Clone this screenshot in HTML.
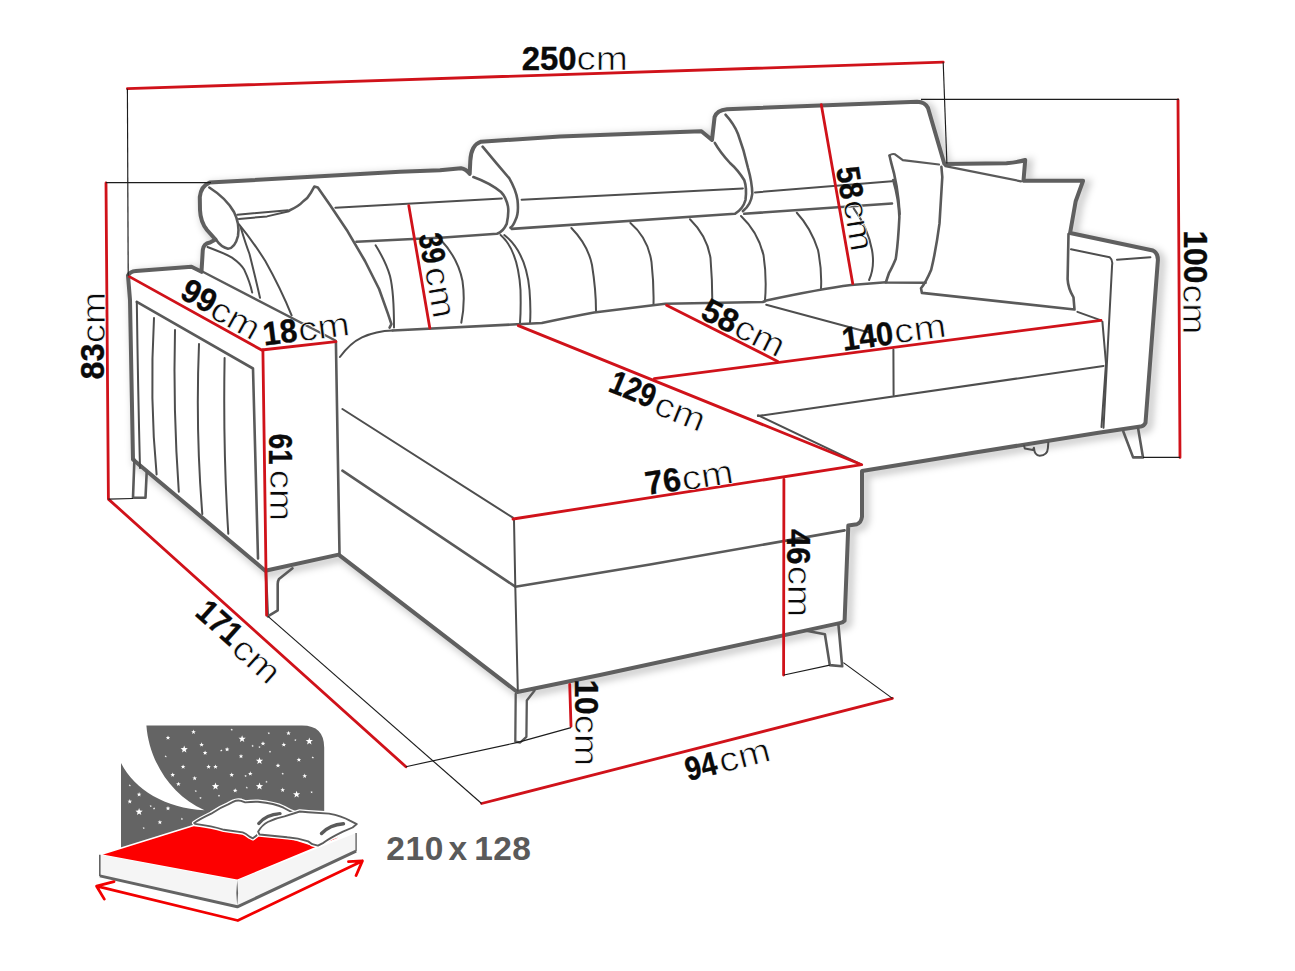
<!DOCTYPE html>
<html><head><meta charset="utf-8"><title>Sofa dimensions</title>
<style>
html,body{margin:0;padding:0;background:#fff;}
body{width:1295px;height:971px;overflow:hidden;position:relative;}
svg{position:absolute;left:0;top:0;}
.o{fill:none;stroke:#5f5f5f;stroke-width:4;stroke-linejoin:round;stroke-linecap:round;}
.m{fill:none;stroke:#5a5a5a;stroke-width:2.6;stroke-linejoin:round;stroke-linecap:round;}
.t{fill:none;stroke:#4e4e4e;stroke-width:2;stroke-linejoin:round;stroke-linecap:round;}
.s{fill:none;stroke:#555;stroke-width:1.3;stroke-linejoin:round;stroke-linecap:round;}
.r{fill:none;stroke:#d0121a;stroke-width:2.8;stroke-linecap:round;stroke-linejoin:round;}
.k{fill:none;stroke:#1c1c1c;stroke-width:1.15;}
text{font-family:"Liberation Sans",sans-serif;fill:#0a0a0a;}
.b{font-weight:bold;stroke:#0a0a0a;stroke-width:0.35px;}
.c{stroke:#fff;stroke-width:0.7px;}
</style></head>
<body>
<svg width="1295" height="971" viewBox="0 0 1295 971">
<defs>
<filter id="sh" x="-5%" y="-5%" width="110%" height="110%"><feGaussianBlur stdDeviation="3.5"/></filter>
</defs>
<!-- SILHOUETTE -->
<g id="sil">
<path d="M128,275.5 Q130,271.5 136,271 L191.5,266.7 L201.5,271.8 L202.8,250 Q203.5,243.5 210,242.5 L215.5,239.5 L207,230 Q200.5,222 200,210 L199.8,197 Q201,186 209.5,182.6 L400,171.8 L440,170.2 L461,168.3 Q466,169 469.7,173.9 L470.3,160.9 Q471,145 481,141.7 L560,136.5 L600,134.9 L680,132.1 L701.4,131.2 L712,140 L714.6,117 Q717,110 727,109.2 L917.2,101.8 Q925,102 928,108 L944.4,164 L1006.5,163.3 Q1018,162.2 1025.2,160 L1023.5,180.7 L1083.1,180.8 L1075.7,201.2 L1070.1,233 L1152.9,250.5 Q1158,253 1157.9,260 L1145.5,422.9 Q1144,426 1140.6,426.6 L1098.5,432.7 L975,452.5 L862,471 L862,516.8 Q861,523 857,524.2 L848.3,525.5 L844.6,620.6 Q843,622.5 839.7,623.1 L600,675 L517.3,692 L338.6,554.6 L265.3,570.7 L133,459.5 L130,300 Z" fill="none" stroke="#000" stroke-opacity="0.2" stroke-width="8" transform="translate(3.5,3)" filter="url(#sh)"/>
<path d="M128,275.5 Q130,271.5 136,271 L191.5,266.7 L201.5,271.8 L202.8,250 Q203.5,243.5 210,242.5 L215.5,239.5 L207,230 Q200.5,222 200,210 L199.8,197 Q201,186 209.5,182.6 L400,171.8 L440,170.2 L461,168.3 Q466,169 469.7,173.9 L470.3,160.9 Q471,145 481,141.7 L560,136.5 L600,134.9 L680,132.1 L701.4,131.2 L712,140 L714.6,117 Q717,110 727,109.2 L917.2,101.8 Q925,102 928,108 L944.4,164 L1006.5,163.3 Q1018,162.2 1025.2,160 L1023.5,180.7 L1083.1,180.8 L1075.7,201.2 L1070.1,233 L1152.9,250.5 Q1158,253 1157.9,260 L1145.5,422.9 Q1144,426 1140.6,426.6 L1098.5,432.7 L975,452.5 L862,471 L862,516.8 Q861,523 857,524.2 L848.3,525.5 L844.6,620.6 Q843,622.5 839.7,623.1 L600,675 L517.3,692 L338.6,554.6 L265.3,570.7 L133,459.5 L130,300 Z" fill="#fff" stroke="none"/>
<path class="o" d="M128,275.5 Q130,271.5 136,271 L191.5,266.7 L201.5,271.8 L202.8,250 Q203.5,243.5 210,242.5 L215.5,239.5 L207,230 Q200.5,222 200,210 L199.8,197 Q201,186 209.5,182.6 L400,171.8 L440,170.2 L461,168.3 Q466,169 469.7,173.9 L470.3,160.9 Q471,145 481,141.7 L560,136.5 L600,134.9 L680,132.1 L701.4,131.2 L712,140 L714.6,117 Q717,110 727,109.2 L917.2,101.8 Q925,102 928,108 L944.4,164 L1006.5,163.3 Q1018,162.2 1025.2,160 L1023.5,180.7 L1083.1,180.8 L1075.7,201.2 L1070.1,233 L1152.9,250.5 Q1158,253 1157.9,260 L1145.5,422.9 Q1144,426 1140.6,426.6 L1098.5,432.7 L975,452.5 L862,471 L862,516.8 Q861,523 857,524.2 L848.3,525.5 L844.6,620.6 Q843,622.5 839.7,623.1 L600,675 L517.3,692 L338.6,554.6 L265.3,570.7 L133,459.5 L130,300 Z"/>
</g>

<!-- LEFT ARM -->
<g id="leftarm">
<path class="m" style="stroke-width:2.3" d="M202.3,271.6 L335.4,340.5"/>
<path class="m" d="M335.9,341.6 Q338,450 339.5,553.4"/>
<path class="m" d="M136.8,301.8 L253,368.5 Q255,450 258,558.4"/>
<path class="t" d="M136.8,301.8 Q138,390 140,468"/>
<path class="t" d="M154,318 Q149.5,400 156.6,474.4"/>
<path class="t" d="M175,330 Q173,410 178.8,491.7"/>
<path class="t" d="M199,344 Q195.5,430 202.3,513.9"/>
<path class="t" d="M224.6,358 Q223,450 228.3,533.7"/>
<path class="m" d="M134.4,459.5 L133,497.8 L145.5,497.8 L146.7,472"/>
<path class="m" d="M292.5,568.3 L279,579 Q277.7,581 277.7,584 L277.7,610.3 L267.8,616.4 L265.8,571"/>
</g>
<!-- LEFT HEADREST / PILLOW -->
<g id="lefthead">
<path class="m" d="M209.3,187.5 Q226,198 234,212 Q240,224 238,236 Q235,248 228,248.8 Q221,247 216.3,240"/>
<path class="t" d="M237.3,214.7 L288,210.3"/>
<path class="t" d="M238.9,219 L267,216.4 L289,211.2"/>
<path class="m" d="M289.8,210.3 Q299,206 303,201.5 Q308,198 310.8,192.8 L314.3,186.6 L317.8,187.5 L330,205 L347.6,231.3 L365,261 L379.1,289 L387.9,313.6 L391.4,324.1 L389.6,327.6"/>
<path class="t" d="M239,224.3 Q252,240 265.3,261 Q281,289 291.6,315.4"/>
<path class="t" d="M240.8,227.8 Q246,245 249.5,254 Q256,280 260,297.8"/>
<path class="t" d="M207.5,247 Q226,254 232,257.6 Q241,264 244.3,269.8 Q250,282 252.2,292.6"/>
<path class="t" d="M335.4,207.7 L501.8,198.6"/>
<path class="m" d="M356.4,241.8 L443.7,237.5 L496.9,233.8 Q503,232 506.7,223.9 Q509,213 508,206.6 Q506,197 501,192 Q490,183 473.4,177"/>
<path class="t" d="M375.6,245.3 Q386,262 390,276 Q394,292 394,327.6"/>
<path class="t" d="M440.5,239.5 Q458,258 462.5,281 Q465.5,302 461.3,322.7"/>
<path class="t" d="M339.9,357 Q350,343 362,337.3 Q376,331 392.7,330.5"/>
</g>
<!-- CENTER HEADREST / BACK -->
<g id="center">
<path class="m" d="M482.6,146.7 Q496,163 509.2,178.2 Q516,190 517.5,200 Q519,214 515.4,220.2 Q513,226 510.5,227.7"/>
<path class="t" d="M521.6,199.8 L742.9,188.4"/>
<path class="m" d="M511.7,228.9 L734.9,213.8 Q743,209 745.5,200 Q747,188 744.3,180.3 Q738,170 730,163 Q720,152 714.8,142.8"/>
<path class="m" d="M725.5,114.7 Q734,124 738,134 Q744,150 748,168 Q752,182 752.3,193.7 Q751,205 742.9,211.1"/>
<path class="t" d="M755,192.4 L892,181.2"/>
<path class="m" d="M744.3,213.8 L892,203.5"/>
<path class="t" d="M500.6,235 Q518,250 520.5,290 Q521,310 520,323"/>
<path class="t" d="M504.3,235 Q526,252 529.5,290 Q531,310 530,323"/>
<path class="t" d="M571.4,228 Q588,245 592,265 Q596,290 596,310.7"/>
<path class="t" d="M630.4,223 Q648,238 651.5,262 Q654,285 653.5,304.4"/>
<path class="t" d="M690,219.3 Q707,236 710.5,258 Q712.3,280 712.3,300.8"/>
<path class="t" d="M741,216 Q758,232 763.5,255 Q767,278 764.9,301.4"/>
<path class="t" d="M796.8,212.7 Q811,228 818,250 Q822,270 821,288.7"/>
<path class="t" d="M853.7,208.4 Q868,228 872,250 Q875,267 869.1,280"/>
<path class="m" d="M392.7,330.5 L517,324.3 L541.8,323 Q570,317 594,312.5 L665.3,303.8 L762.8,302 L766.2,300.5 Q820,289 851.2,285 L886,282.3"/>
</g>
<!-- RIGHT PILLOWS -->
<g id="pillows">
<path class="m" d="M893.2,180 Q899,200 899.4,217 Q898,245 895.7,259.1 Q892,268 889,273 L885.8,282.5 L925.6,282.7"/>
<path class="m" d="M889.5,155.5 L891,162 Q898,185 899.6,214.1"/>
<path class="m" style="stroke-width:2.2" d="M889.5,155.5 Q892,153.3 895,154.3 L902.8,160.2 L939,164.5"/>
<path class="m" d="M941.4,166.9 L942.3,177 Q941,200 939.5,223.4 Q936,250 931.2,269.7 Q926,282 921,288.3 L921.9,292.9 L1074.5,309.5 L1073.5,297.4 Q1068,288 1067.6,279.1 L1068.5,234"/>
<path class="m" style="stroke-width:2.2" d="M945.3,166.2 L1021,181.3"/>
</g>
<!-- RIGHT ARM & SEAT -->
<g id="rightside">
<path class="t" d="M1071,249.3 L1109.7,257.3 Q1113,260 1112.1,265 L1103.5,427.8"/>
<path class="t" d="M1117,259.8 L1150.4,257.3"/>
<path class="t" d="M1077.4,311.9 L1101.1,320.4 M1102.4,321.7 L1106,363.5 L1101.5,427"/>
<path class="t" d="M766.2,304.7 L869.3,332.5"/>
<path class="t" d="M893.4,349.5 L893.6,395.1"/>
<path class="t" d="M758,416 L1103.5,366"/>
<path class="m" d="M1123.3,431.5 L1133.1,457.4 L1143,457.4 L1138,427.8"/>
<path class="t" style="stroke-width:2" d="M1024,445.5 L1024.8,448.5 L1033.1,449.9 L1033.9,447.8 M1034,448 Q1034.5,455.5 1039.7,455.7 Q1047.5,455.5 1047.9,448 L1048.3,442.7"/>
</g>
<!-- CHAISE -->
<g id="chaise">
<path class="t" d="M342.4,409 L512.9,517.7"/>
<path class="m" d="M342.4,470.7 L515.3,586.7 L650,564.5 L844.6,530.4"/>
<path class="t" d="M514,520 L515.3,586.7 L517.8,690.5"/>
<path class="t" d="M861.7,464.7 L757.9,415.2"/>
<path class="m" style="stroke-width:2.3" d="M515.7,694 L515.3,741.7 L520.2,742.5 L526.4,736.8 L526.8,700.5 L534.6,690.5"/>
<path class="m" d="M805,630.5 L824.9,634.2 L829.8,665.1 L842.2,666.3 L838.4,624.3"/>
</g>
<!-- DIMENSION LINES -->
<g id="dims">
<path class="r" d="M127.4,88.7 L943.2,62.2"/>
<path class="r" d="M106,183 L108.4,499.1 L405.9,766.7"/>
<path class="r" d="M129.4,276.6 L261.6,350 L335.9,341.6"/>
<path class="r" d="M262.9,350 L266.6,615.2"/>
<path class="r" d="M408.8,205.7 L429.8,328"/>
<path class="r" d="M821.3,104.7 L852.7,283.5"/>
<path class="r" d="M1178,100 L1180,457.4"/>
<path class="r" d="M518.3,325.6 L861.7,464.7 L513,519"/>
<path class="r" d="M666.6,305.3 L777.8,361.4"/>
<path class="r" d="M654.2,378.7 L1101,320.3"/>
<path class="r" d="M783.9,479.5 L783.6,675"/>
<path class="r" d="M569.7,684.3 L571,726.3"/>
<path class="r" d="M481.6,803.5 L892.4,698.4"/>
</g>
<g id="ext">
<path class="k" d="M127.4,88.7 L128.2,275.8"/>
<path class="k" d="M943.2,62.2 L946.9,163.5"/>
<path class="k" d="M106,182.6 L211,182.6"/>
<path class="k" d="M108.4,499.1 L133,498.5"/>
<path class="k" d="M921,99.3 L1178.9,99.3"/>
<path class="k" d="M1143,457.4 L1180,457.4"/>
<path class="k" d="M268,616.4 L481.6,803.5"/>
<path class="k" d="M571,727.6 L517.8,742.4 L405.9,766.7"/>
<path class="k" d="M784,675 L829.8,665.1"/>
<path class="k" d="M843.4,662.6 L892.4,698.4"/>
</g>

<g id="bed">
<path fill="#646464" d="M146.4,725.4 L302,725.4 Q324.2,725.4 324.2,747.6 L324.2,830 L121,850 L121,763 C135,790 165,808 204.6,810.3 C170,795 149,760 146.4,725.4 Z"/>
<path fill="#fff" d="M168.0,735.4 L168.6,737.0 L170.3,737.1 L169.0,738.1 L169.4,739.7 L168.0,738.8 L166.6,739.7 L167.0,738.1 L165.7,737.1 L167.4,737.0Z M193.5,729.6 L194.1,731.2 L195.8,731.3 L194.5,732.3 L194.9,733.9 L193.5,733.0 L192.1,733.9 L192.5,732.3 L191.2,731.3 L192.9,731.2Z M242.1,735.2 L243.0,737.7 L245.7,737.8 L243.6,739.5 L244.3,742.1 L242.1,740.6 L239.9,742.1 L240.6,739.5 L238.5,737.8 L241.2,737.7Z M309.3,737.5 L310.2,740.0 L312.9,740.1 L310.8,741.8 L311.5,744.4 L309.3,742.9 L307.1,744.4 L307.8,741.8 L305.7,740.1 L308.4,740.0Z M288.5,730.8 L289.1,732.4 L290.8,732.5 L289.5,733.5 L289.9,735.1 L288.5,734.2 L287.1,735.1 L287.5,733.5 L286.2,732.5 L287.9,732.4Z M268.8,731.9 L269.1,732.8 L270.0,732.8 L269.3,733.4 L269.6,734.3 L268.8,733.7 L268.0,734.3 L268.3,733.4 L267.6,732.8 L268.5,732.8Z M295.4,738.8 L295.7,739.7 L296.6,739.7 L295.9,740.3 L296.2,741.2 L295.4,740.6 L294.6,741.2 L294.9,740.3 L294.2,739.7 L295.1,739.7Z M231.7,728.4 L232.0,729.3 L232.9,729.3 L232.2,729.9 L232.5,730.8 L231.7,730.2 L230.9,730.8 L231.2,729.9 L230.5,729.3 L231.4,729.3Z M184.2,745.6 L185.1,748.1 L187.8,748.2 L185.7,749.9 L186.4,752.5 L184.2,751.0 L182.0,752.5 L182.7,749.9 L180.6,748.2 L183.3,748.1Z M201.6,742.3 L202.2,743.9 L203.9,744.0 L202.6,745.0 L203.0,746.6 L201.6,745.7 L200.2,746.6 L200.6,745.0 L199.3,744.0 L201.0,743.9Z M227.1,747.0 L227.7,748.6 L229.4,748.7 L228.1,749.7 L228.5,751.3 L227.1,750.4 L225.7,751.3 L226.1,749.7 L224.8,748.7 L226.5,748.6Z M221.3,749.2 L221.6,750.1 L222.5,750.1 L221.8,750.7 L222.1,751.6 L221.3,751.0 L220.5,751.6 L220.8,750.7 L220.1,750.1 L221.0,750.1Z M205.1,750.5 L205.7,752.1 L207.4,752.2 L206.1,753.2 L206.5,754.8 L205.1,753.9 L203.7,754.8 L204.1,753.2 L202.8,752.2 L204.5,752.1Z M252.6,744.6 L252.9,745.5 L253.8,745.5 L253.1,746.1 L253.4,747.0 L252.6,746.4 L251.8,747.0 L252.1,746.1 L251.4,745.5 L252.3,745.5Z M263.0,741.2 L263.6,742.8 L265.3,742.9 L264.0,743.9 L264.4,745.5 L263.0,744.6 L261.6,745.5 L262.0,743.9 L260.7,742.9 L262.4,742.8Z M283.8,742.3 L284.4,743.9 L286.1,744.0 L284.8,745.0 L285.2,746.6 L283.8,745.7 L282.4,746.6 L282.8,745.0 L281.5,744.0 L283.2,743.9Z M259.5,745.8 L259.8,746.7 L260.7,746.7 L260.0,747.3 L260.3,748.2 L259.5,747.6 L258.7,748.2 L259.0,747.3 L258.3,746.7 L259.2,746.7Z M270.0,750.4 L270.3,751.3 L271.2,751.3 L270.5,751.9 L270.8,752.8 L270.0,752.2 L269.2,752.8 L269.5,751.9 L268.8,751.3 L269.7,751.3Z M241.0,753.9 L241.6,755.5 L243.3,755.6 L242.0,756.6 L242.4,758.2 L241.0,757.3 L239.6,758.2 L240.0,756.6 L238.7,755.6 L240.4,755.5Z M259.5,757.2 L260.4,759.7 L263.1,759.8 L261.0,761.5 L261.7,764.1 L259.5,762.6 L257.3,764.1 L258.0,761.5 L255.9,759.8 L258.6,759.7Z M298.9,757.4 L299.5,759.0 L301.2,759.1 L299.9,760.1 L300.3,761.7 L298.9,760.8 L297.5,761.7 L297.9,760.1 L296.6,759.1 L298.3,759.0Z M312.8,756.2 L313.1,757.1 L314.0,757.1 L313.3,757.7 L313.6,758.6 L312.8,758.0 L312.0,758.6 L312.3,757.7 L311.6,757.1 L312.5,757.1Z M165.7,755.0 L166.0,755.9 L166.9,755.9 L166.2,756.5 L166.5,757.4 L165.7,756.8 L164.9,757.4 L165.2,756.5 L164.5,755.9 L165.4,755.9Z M183.1,764.4 L183.7,766.0 L185.4,766.1 L184.1,767.1 L184.5,768.7 L183.1,767.8 L181.7,768.7 L182.1,767.1 L180.8,766.1 L182.5,766.0Z M208.6,764.4 L209.2,766.0 L210.9,766.1 L209.6,767.1 L210.0,768.7 L208.6,767.8 L207.2,768.7 L207.6,767.1 L206.3,766.1 L208.0,766.0Z M215.5,764.4 L216.1,766.0 L217.8,766.1 L216.5,767.1 L216.9,768.7 L215.5,767.8 L214.1,768.7 L214.5,767.1 L213.2,766.1 L214.9,766.0Z M278.0,763.2 L278.6,764.8 L280.3,764.9 L279.0,765.9 L279.4,767.5 L278.0,766.6 L276.6,767.5 L277.0,765.9 L275.7,764.9 L277.4,764.8Z M172.7,772.5 L173.3,774.1 L175.0,774.2 L173.7,775.2 L174.1,776.8 L172.7,775.9 L171.3,776.8 L171.7,775.2 L170.4,774.2 L172.1,774.1Z M194.7,775.9 L195.3,777.5 L197.0,777.6 L195.7,778.6 L196.1,780.2 L194.7,779.3 L193.3,780.2 L193.7,778.6 L192.4,777.6 L194.1,777.5Z M231.7,772.5 L232.3,774.1 L234.0,774.2 L232.7,775.2 L233.1,776.8 L231.7,775.9 L230.3,776.8 L230.7,775.2 L229.4,774.2 L231.1,774.1Z M250.3,771.3 L250.9,772.9 L252.6,773.0 L251.3,774.0 L251.7,775.6 L250.3,774.7 L248.9,775.6 L249.3,774.0 L248.0,773.0 L249.7,772.9Z M245.6,774.7 L245.9,775.6 L246.8,775.6 L246.1,776.2 L246.4,777.1 L245.6,776.5 L244.8,777.1 L245.1,776.2 L244.4,775.6 L245.3,775.6Z M282.7,772.4 L283.0,773.3 L283.9,773.3 L283.2,773.9 L283.5,774.8 L282.7,774.2 L281.9,774.8 L282.2,773.9 L281.5,773.3 L282.4,773.3Z M304.7,773.6 L305.3,775.2 L307.0,775.3 L305.7,776.3 L306.1,777.9 L304.7,777.0 L303.3,777.9 L303.7,776.3 L302.4,775.3 L304.1,775.2Z M178.4,781.7 L179.0,783.3 L180.7,783.4 L179.4,784.4 L179.8,786.0 L178.4,785.1 L177.0,786.0 L177.4,784.4 L176.1,783.4 L177.8,783.3Z M215.5,782.6 L216.4,785.1 L219.1,785.2 L217.0,786.9 L217.7,789.5 L215.5,788.0 L213.3,789.5 L214.0,786.9 L211.9,785.2 L214.6,785.1Z M259.5,782.6 L260.4,785.1 L263.1,785.2 L261.0,786.9 L261.7,789.5 L259.5,788.0 L257.3,789.5 L258.0,786.9 L255.9,785.2 L258.6,785.1Z M266.5,780.5 L266.8,781.4 L267.7,781.4 L267.0,782.0 L267.3,782.9 L266.5,782.3 L265.7,782.9 L266.0,782.0 L265.3,781.4 L266.2,781.4Z M246.8,786.3 L247.1,787.2 L248.0,787.2 L247.3,787.8 L247.6,788.7 L246.8,788.1 L246.0,788.7 L246.3,787.8 L245.6,787.2 L246.5,787.2Z M235.2,788.2 L235.8,789.8 L237.5,789.9 L236.2,790.9 L236.6,792.5 L235.2,791.6 L233.8,792.5 L234.2,790.9 L232.9,789.9 L234.6,789.8Z M195.8,789.8 L196.1,790.7 L197.0,790.7 L196.3,791.3 L196.6,792.2 L195.8,791.6 L195.0,792.2 L195.3,791.3 L194.6,790.7 L195.5,790.7Z M219.0,794.4 L219.3,795.3 L220.2,795.3 L219.5,795.9 L219.8,796.8 L219.0,796.2 L218.2,796.8 L218.5,795.9 L217.8,795.3 L218.7,795.3Z M200.5,796.7 L200.8,797.6 L201.7,797.6 L201.0,798.2 L201.3,799.1 L200.5,798.5 L199.7,799.1 L200.0,798.2 L199.3,797.6 L200.2,797.6Z M282.7,787.6 L283.3,789.2 L285.0,789.3 L283.7,790.3 L284.1,791.9 L282.7,791.0 L281.3,791.9 L281.7,790.3 L280.4,789.3 L282.1,789.2Z M296.6,790.7 L297.5,793.2 L300.2,793.3 L298.1,795.0 L298.8,797.6 L296.6,796.1 L294.4,797.6 L295.1,795.0 L293.0,793.3 L295.7,793.2Z M311.6,790.9 L311.9,791.8 L312.8,791.8 L312.1,792.4 L312.4,793.3 L311.6,792.7 L310.8,793.3 L311.1,792.4 L310.4,791.8 L311.3,791.8Z M129.8,784.0 L130.1,784.9 L131.0,784.9 L130.3,785.5 L130.6,786.4 L129.8,785.8 L129.0,786.4 L129.3,785.5 L128.6,784.9 L129.5,784.9Z M139.1,792.1 L139.7,793.7 L141.4,793.8 L140.1,794.8 L140.5,796.4 L139.1,795.5 L137.7,796.4 L138.1,794.8 L136.8,793.8 L138.5,793.7Z M129.8,799.1 L130.4,800.7 L132.1,800.8 L130.8,801.8 L131.2,803.4 L129.8,802.5 L128.4,803.4 L128.8,801.8 L127.5,800.8 L129.2,800.7Z M139.1,808.1 L140.0,810.6 L142.7,810.7 L140.6,812.4 L141.3,815.0 L139.1,813.5 L136.9,815.0 L137.6,812.4 L135.5,810.7 L138.2,810.6Z M168.0,806.0 L168.6,807.6 L170.3,807.7 L169.0,808.7 L169.4,810.3 L168.0,809.4 L166.6,810.3 L167.0,808.7 L165.7,807.7 L167.4,807.6Z M154.1,807.1 L154.4,808.0 L155.3,808.0 L154.6,808.6 L154.9,809.5 L154.1,808.9 L153.3,809.5 L153.6,808.6 L152.9,808.0 L153.8,808.0Z M150.7,804.8 L151.0,805.7 L151.9,805.7 L151.2,806.3 L151.5,807.2 L150.7,806.6 L149.9,807.2 L150.2,806.3 L149.5,805.7 L150.4,805.7Z M159.9,819.9 L160.5,821.5 L162.2,821.6 L160.9,822.6 L161.3,824.2 L159.9,823.3 L158.5,824.2 L158.9,822.6 L157.6,821.6 L159.3,821.5Z M181.9,817.6 L182.2,818.5 L183.1,818.5 L182.4,819.1 L182.7,820.0 L181.9,819.4 L181.1,820.0 L181.4,819.1 L180.7,818.5 L181.6,818.5Z M143.7,826.8 L144.0,827.7 L144.9,827.7 L144.2,828.3 L144.5,829.2 L143.7,828.6 L142.9,829.2 L143.2,828.3 L142.5,827.7 L143.4,827.7Z"/>
<path fill="#fd0000" stroke="#fff" stroke-width="1.6" stroke-linejoin="round" d="M99.8,854.7 L194.4,825.2 L215,827 L245,832 L258,835 L290,838 L312,845 L356.1,831 L237,880.4 Z"/>
<path fill="#f5f5f5" d="M99.8,854.7 L237,880.4 L356.1,833.1 L356.1,851.2 L237.3,906.8 L99.8,875.9 Z"/>
<path fill="none" stroke="#646464" stroke-width="1.6" stroke-linejoin="round" d="M99.8,854.7 L99.8,875.9"/>
<path fill="none" stroke="#646464" stroke-width="1.4" d="M356.1,833.1 L356.1,851.2"/>
<path fill="none" stroke="#646464" stroke-width="3" stroke-linejoin="round" d="M99.8,875.9 L237.3,906.8 L356.1,851.2"/>
<path fill="#646464" d="M237.2,880 Q235.4,893 237.2,906 Q239,893 237.2,880 Z"/>
<path fill="#fff" stroke="#fff" stroke-width="4.5" stroke-linejoin="round" d="M194.2,823 Q200,819 211.2,813.7 Q220,807.5 228.2,804.3 L233,801.8 Q237,799.8 241,800.8 L245.2,802.4 Q252,801.6 258,801.8 Q275,803.5 283.5,807.7 Q289,811 295.4,813.3 L287.7,815.4 L283.5,816.2 L271.6,827.3 L258.8,832.4 L257.1,835 L252.9,838.3 L249.5,836.6 Q246,833.5 242.7,832.4 L224,829.8 Q212,826 195.1,823.9 Z"/><path fill="#fff" stroke="#5c5c5c" stroke-width="1.9" stroke-linejoin="round" d="M194.2,823 Q200,819 211.2,813.7 Q220,807.5 228.2,804.3 L233,801.8 Q237,799.8 241,800.8 L245.2,802.4 Q252,801.6 258,801.8 Q275,803.5 283.5,807.7 Q289,811 295.4,813.3 L287.7,815.4 L283.5,816.2 L271.6,827.3 L258.8,832.4 L257.1,835 L252.9,838.3 L249.5,836.6 Q246,833.5 242.7,832.4 L224,829.8 Q212,826 195.1,823.9 Z"/>
<path fill="none" stroke="#5a5a5a" stroke-width="3.4" stroke-linecap="round" d="M258.8,823.5 Q266,814.5 280,813.6"/>
<path fill="#fff" stroke="#fff" stroke-width="4.5" stroke-linejoin="round" d="M258.1,831.7 Q262,825 267.8,822 Q276,818 284.5,816.4 L299.8,811.5 L308.2,812.2 L329,813.6 Q342,816 349.9,820.6 L356.8,824.1 L352.6,827.5 L342.9,831.7 Q330,838 323.4,842.8 L317.9,845.6 L312.3,844.2 L308.2,841.4 Q298,838 287.3,837.3 L259.5,834.5 Z"/><path fill="#fff" stroke="#5c5c5c" stroke-width="1.9" stroke-linejoin="round" d="M258.1,831.7 Q262,825 267.8,822 Q276,818 284.5,816.4 L299.8,811.5 L308.2,812.2 L329,813.6 Q342,816 349.9,820.6 L356.8,824.1 L352.6,827.5 L342.9,831.7 Q330,838 323.4,842.8 L317.9,845.6 L312.3,844.2 L308.2,841.4 Q298,838 287.3,837.3 L259.5,834.5 Z"/>
<path fill="none" stroke="#5a5a5a" stroke-width="3.4" stroke-linecap="round" d="M321.5,833.5 Q329.5,825 343.5,823.8"/>
<path fill="none" stroke="#f20000" stroke-width="2.8" stroke-linejoin="round" stroke-linecap="round" d="M114,881.7 L96.6,886.2 L104.3,899.1 M96.6,886.2 L237.8,920.5 L362.4,860.9 M348.5,861.6 L362.4,860.9 L356.1,875.5"/>
</g>
<text x="386.3" y="860" font-size="33.5" font-weight="bold" letter-spacing="0.6" style="fill:#5a5a5a">210</text>
<text x="448.5" y="860" font-size="33.5" font-weight="bold" style="fill:#5a5a5a">x</text>
<text x="474.3" y="860" font-size="33.5" font-weight="bold" letter-spacing="0.3" style="fill:#5a5a5a">128</text>
<g id="labels">
<text class="b" font-size="33.0" transform="translate(521.74,70.10) rotate(0) scale(0.998,1)">250</text><text class="c" font-size="34.0" textLength="51.5" lengthAdjust="spacingAndGlyphs" transform="translate(576.46,69.85) rotate(0)">cm</text>
<text class="b" font-size="33.0" transform="translate(103.60,379.50) rotate(-90) scale(0.987,1)">83</text><text class="c" font-size="34.0" textLength="51.2" lengthAdjust="spacingAndGlyphs" transform="translate(104.65,343.28) rotate(-90)">cm</text>
<text class="b" font-size="33.0" transform="translate(178.44,297.24) rotate(29) scale(0.951,1)">99</text><text class="c" font-size="34.0" textLength="51.2" lengthAdjust="spacingAndGlyphs" transform="translate(207.63,316.14) rotate(29)">cm</text>
<text class="b" font-size="33.0" transform="translate(264.17,345.47) rotate(-7) scale(0.938,1)">18</text><text class="c" font-size="34.0" textLength="51.7" lengthAdjust="spacingAndGlyphs" transform="translate(299.56,341.47) rotate(-7)">cm</text>
<text class="b" font-size="33.0" transform="translate(418.39,235.23) rotate(80) scale(0.825,1)">39</text><text class="c" font-size="34.0" textLength="51.7" lengthAdjust="spacingAndGlyphs" transform="translate(424.59,268.73) rotate(80)">cm</text>
<text class="b" font-size="33.0" transform="translate(835.98,168.53) rotate(80.5) scale(0.883,1)">58</text><text class="c" font-size="34.0" textLength="51.7" lengthAdjust="spacingAndGlyphs" transform="translate(842.89,201.71) rotate(80.5)">cm</text>
<text class="b" font-size="33.0" transform="translate(1183.50,230.45) rotate(90) scale(0.959,1)">100</text><text class="c" font-size="34.0" textLength="49.9" lengthAdjust="spacingAndGlyphs" transform="translate(1183.35,284.46) rotate(90)">cm</text>
<text class="b" font-size="33.0" transform="translate(699.10,317.83) rotate(26.8) scale(0.984,1)">58</text><text class="c" font-size="34.0" textLength="51.7" lengthAdjust="spacingAndGlyphs" transform="translate(731.85,334.74) rotate(26.8)">cm</text>
<text class="b" font-size="33.0" transform="translate(606.98,390.73) rotate(22.1) scale(0.852,1)">129</text><text class="c" font-size="34.0" textLength="51.7" lengthAdjust="spacingAndGlyphs" transform="translate(652.07,412.94) rotate(22.1)">cm</text>
<text class="b" font-size="33.0" transform="translate(843.52,350.78) rotate(-7.5) scale(0.931,1)">140</text><text class="c" font-size="34.0" textLength="52.3" lengthAdjust="spacingAndGlyphs" transform="translate(895.60,343.42) rotate(-7.5)">cm</text>
<text class="b" font-size="33.0" transform="translate(268.70,433.83) rotate(90) scale(0.834,1)">61</text><text class="c" font-size="34.0" textLength="51.5" lengthAdjust="spacingAndGlyphs" transform="translate(269.85,469.76) rotate(90)">cm</text>
<text class="b" font-size="33.0" transform="translate(647.07,495.12) rotate(-8.85) scale(0.971,1)">76</text><text class="c" font-size="34.0" textLength="51.7" lengthAdjust="spacingAndGlyphs" transform="translate(683.56,490.74) rotate(-8.85)">cm</text>
<text class="b" font-size="33.0" transform="translate(787.40,529.34) rotate(90) scale(0.956,1)">46</text><text class="c" font-size="34.0" textLength="51.6" lengthAdjust="spacingAndGlyphs" transform="translate(787.75,565.70) rotate(90)">cm</text>
<text class="b" font-size="33.0" transform="translate(574.80,679.39) rotate(90) scale(0.961,1)">10</text><text class="c" font-size="34.0" textLength="51.5" lengthAdjust="spacingAndGlyphs" transform="translate(575.05,714.76) rotate(90)">cm</text>
<text class="b" font-size="33.0" transform="translate(688.30,781.07) rotate(-14.35) scale(0.866,1)">94</text><text class="c" font-size="34.0" textLength="51.7" lengthAdjust="spacingAndGlyphs" transform="translate(722.11,772.95) rotate(-14.35)">cm</text>
<text class="b" font-size="33.0" transform="translate(193.87,614.45) rotate(42) scale(0.884,1)">171</text><text class="c" font-size="34.0" textLength="51.7" lengthAdjust="spacingAndGlyphs" transform="translate(229.84,651.34) rotate(42)">cm</text>
</g>
<!--END LABELS-->
</svg>
</body></html>
